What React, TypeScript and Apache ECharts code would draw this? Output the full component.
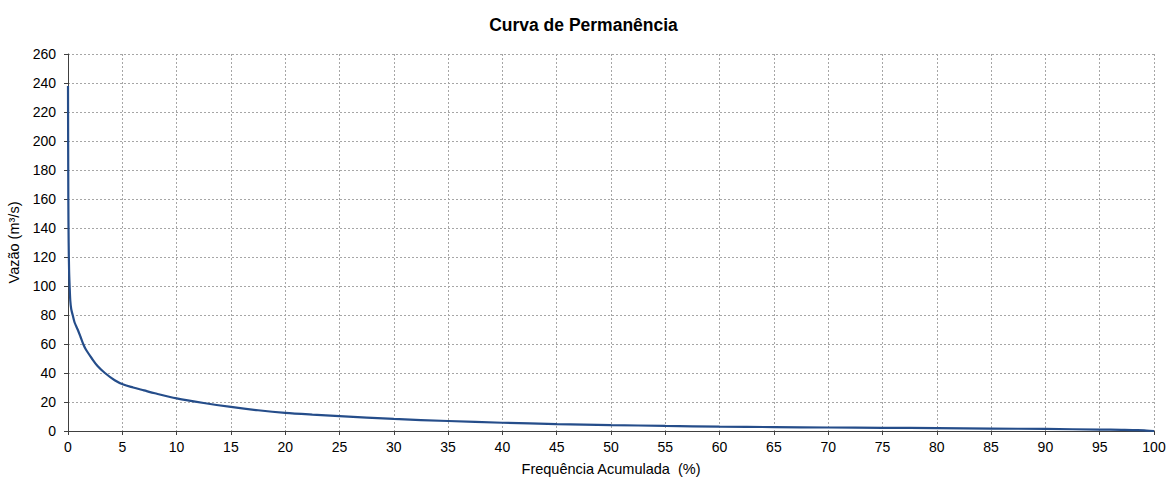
import React, { useEffect, useRef } from "react";
import * as echarts from "echarts";

const freq = [0, 0.03, 0.06, 0.1, 0.15, 0.21, 0.3, 0.43, 0.6, 0.89, 1.15, 1.4, 1.66, 2.2, 2.7, 3.4, 4.3, 5.1, 6, 7, 8, 10, 12.5, 15, 17.5, 20, 22.5, 25, 30, 35, 40, 45, 50, 55, 60, 65, 70, 75, 80, 85, 90, 95, 97, 98.5, 99.3, 100];
const flow = [238, 160, 130, 111, 100, 90, 84, 80, 75, 70, 65, 60, 56, 50, 45, 40, 35, 32, 30, 28, 26, 22.5, 19.3, 16.6, 14.3, 12.5, 11.3, 10.3, 8.3, 6.9, 5.7, 4.8, 4.1, 3.5, 3.0, 2.7, 2.4, 2.2, 2.0, 1.7, 1.4, 1.0, 0.8, 0.6, 0.3, 0];

const xTicks = { min: 0, max: 100, interval: 5 };
const yTicks = { min: 0, max: 260, interval: 20 };

export default function App() {
  const ref = useRef<HTMLDivElement>(null);
  useEffect(() => {
    const chart = echarts.init(ref.current!, null, { renderer: "svg" });
    const font = "Liberation Sans, Arial, sans-serif";
    chart.setOption({
      animation: false,
      backgroundColor: "#ffffff",
      title: {
        text: "Curva de Permanência",
        left: "center",
        top: 11,
        textStyle: { fontFamily: font, fontSize: 17.5, fontWeight: "bold", color: "#000" },
      },
      grid: { left: 68, right: 13, top: 54, bottom: 47, containLabel: false, outerBoundsMode: "none" },
      xAxis: {
        type: "value",
        ...xTicks,
        name: "Frequência Acumulada  (%)",
        nameLocation: "middle",
        nameGap: 30,
        nameTextStyle: { fontFamily: font, fontSize: 14.5, color: "#000" },
        axisLine: { show: true, onZero: false, lineStyle: { color: "#404040", width: 1 } },
        axisTick: { show: true, length: 4, lineStyle: { color: "#404040" } },
        axisLabel: { fontFamily: font, fontSize: 14, color: "#000", margin: 9 },
        splitLine: { show: true, lineStyle: { color: "#a6a6a6", type: [2, 2], width: 1 } },
      },
      yAxis: {
        type: "value",
        ...yTicks,
        name: "Vazão (m³/s)",
        nameLocation: "middle",
        nameGap: 45,
        nameTextStyle: { fontFamily: font, fontSize: 14.5, color: "#000" },
        axisLine: { show: true, lineStyle: { color: "#404040", width: 1 } },
        axisTick: { show: true, length: 4, lineStyle: { color: "#404040" } },
        axisLabel: { fontFamily: font, fontSize: 14, color: "#000", margin: 12 },
        splitLine: { show: true, lineStyle: { color: "#a6a6a6", type: [2, 2], width: 1 } },
      },
      series: [
        {
          type: "line",
          data: freq.map((f, i) => [f, flow[i]]),
          showSymbol: false,
          smooth: 0.3,
          lineStyle: { color: "#254D8A", width: 2.2 },
          z: 5,
        },
      ],
    });
    return () => chart.dispose();
  }, []);
  return (
    <div
      ref={ref}
      style={{ position: "absolute", left: 0, top: 0, width: 1167, height: 478 }}
    />
  );
}
